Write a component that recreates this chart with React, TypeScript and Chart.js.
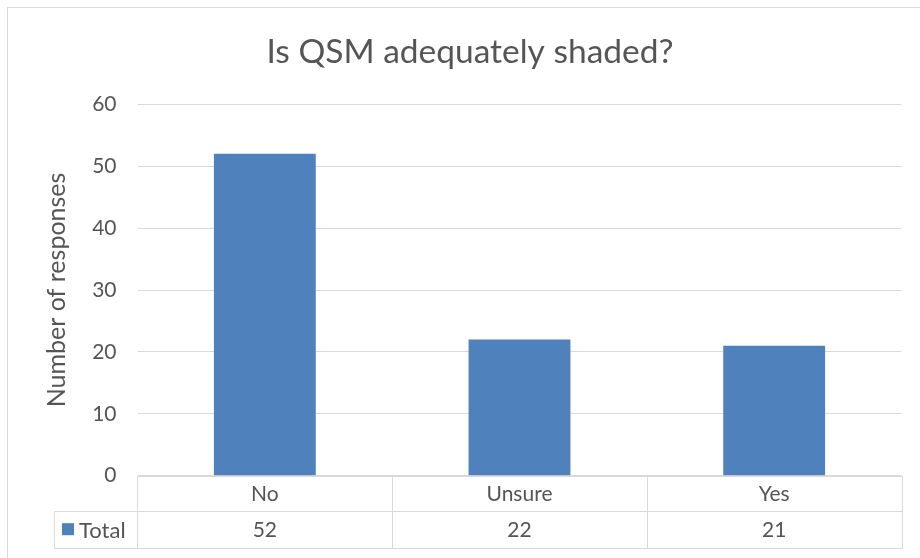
import React, { useEffect, useRef } from "react";
import { Chart, registerables } from "chart.js";

Chart.register(...registerables);

const title = "Is QSM adequately shaded?";
const yAxisTitle = "Number of responses";
const categories = ["No", "Unsure", "Yes"];
const seriesName = "Total";
const totals = [52, 22, 21];
const yMin = 0;
const yMax = 60;
const yStep = 10;

const FONT = "Lato, 'Open Sans', sans-serif";
const TEXT = "#555555";
const GRID = "#D9D9D9";
const BAR = "#4F81BD";

const tablePlugin = {
  id: "dataTable",
  afterDraw(chart: any) {
    const { ctx, scales, chartArea } = chart;
    const x = scales.x;
    const top = chartArea.bottom;
    const rowH = 35.5;
    const mid = top + rowH;
    const bottom = top + 72;
    const half = (x.getPixelForValue(1) - x.getPixelForValue(0)) / 2;
    const left = x.getPixelForValue(0) - half;
    const right = x.getPixelForValue(categories.length - 1) + half;
    const legendLeft = 53.5;
    ctx.save();
    // outer chart border
    ctx.strokeStyle = GRID;
    ctx.lineWidth = 1;
    ctx.strokeRect(7.5, 7.5, 2000, 2000);
    ctx.beginPath();
    const px = (v: number) => Math.round(v) + 0.5;
    ctx.moveTo(px(left), px(top));
    ctx.lineTo(px(right), px(top));
    ctx.moveTo(px(legendLeft), px(mid));
    ctx.lineTo(px(right), px(mid));
    ctx.moveTo(px(legendLeft), px(bottom));
    ctx.lineTo(px(right), px(bottom));
    ctx.moveTo(px(legendLeft), px(mid));
    ctx.lineTo(px(legendLeft), px(bottom));
    for (let i = 0; i <= categories.length; i++) {
      const xx = px(left + i * half * 2);
      ctx.moveTo(xx, px(top));
      ctx.lineTo(xx, px(bottom));
    }
    ctx.stroke();
    ctx.fillStyle = TEXT;
    ctx.font = `21px ${FONT}`;
    ctx.textAlign = "center";
    ctx.textBaseline = "middle";
    categories.forEach((c, i) => {
      const cx = x.getPixelForValue(i);
      ctx.fillText(c, cx, (top + mid) / 2 + 1);
      ctx.fillText(String(totals[i]), cx, (mid + bottom) / 2 + 1);
    });
    ctx.fillStyle = BAR;
    ctx.fillRect(62, mid + 12, 12, 12);
    ctx.fillStyle = TEXT;
    ctx.textAlign = "left";
    ctx.font = `22px ${FONT}`;
    ctx.fillText(seriesName, 79, (mid + bottom) / 2 + 1);
    ctx.restore();
  },
};

export default function App() {
  const ref = useRef<HTMLCanvasElement | null>(null);
  useEffect(() => {
    if (!ref.current) return;
    const chart = new Chart(ref.current, {
      type: "bar",
      data: {
        labels: categories,
        datasets: [
          {
            label: seriesName,
            data: totals,
            backgroundColor: BAR,
            borderWidth: 0,
            barPercentage: 0.4,
            categoryPercentage: 1,
          },
        ],
      },
      options: {
        responsive: false,
        animation: false,
        layout: { padding: { left: 38.5, right: 18.5, top: 0, bottom: 82.3 } },
        plugins: {
          legend: { display: false },
          tooltip: { enabled: false },
          title: {
            display: true,
            text: title,
            color: TEXT,
            font: { family: FONT, size: 33.5, weight: "normal" },
            padding: { top: 31.9, bottom: 32.2 },
          },
        },
        scales: {
          x: { display: false },
          y: {
            min: yMin,
            max: yMax,
            ticks: {
              stepSize: yStep,
              color: TEXT,
              padding: 21,
              font: { family: FONT, size: 21 },
            },
            grid: { color: GRID, drawTicks: false, lineWidth: 1 },
            border: { display: false },
            title: {
              display: true,
              text: yAxisTitle,
              color: TEXT,
              font: { family: FONT, size: 25 },
              padding: { top: 3, bottom: 0 },
            },
            afterFit: (s: any) => {
              s.width = 99;
            },
          },
        },
      },
      plugins: [tablePlugin],
    });
    return () => chart.destroy();
  }, []);
  return (
    <div style={{ position: "fixed", left: 0, top: 0, width: 920, height: 558, background: "#fff" }}>
      <canvas ref={ref} width={920} height={558} style={{ display: "block" }} />
    </div>
  );
}
